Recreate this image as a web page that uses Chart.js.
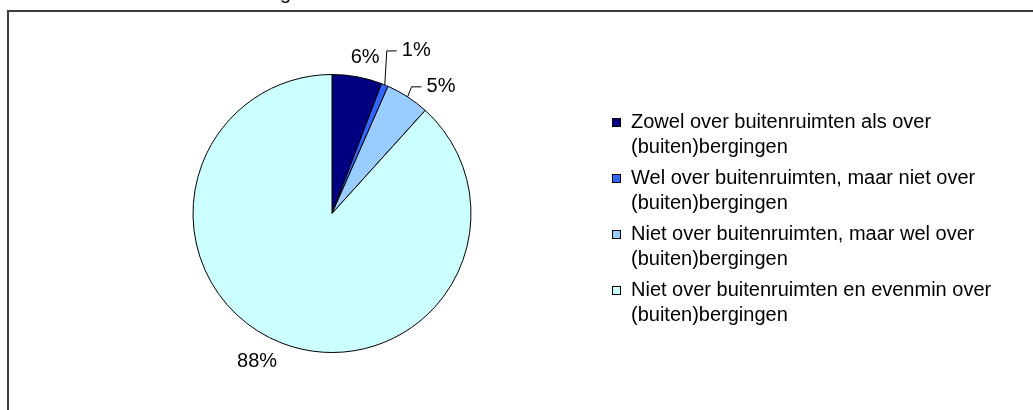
<!DOCTYPE html>
<html lang="nl">
<head>
  <meta charset="UTF-8" />
  <title>Buitenruimten en bergingen</title>
  <script src="https://cdn.jsdelivr.net/npm/chart.js"></script>
  <style>
    html, body { margin: 0; padding: 0; background: #fff; }
    canvas { display: block; }
  </style>
</head>
<body>
  <canvas id="pieChart" width="1033" height="410"></canvas>

  <script>
    // data
    const categories = [
      ['Zowel over buitenruimten als over', '(buiten)bergingen'],
      ['Wel over buitenruimten, maar niet over', '(buiten)bergingen'],
      ['Niet over buitenruimten, maar wel over', '(buiten)bergingen'],
      ['Niet over buitenruimten en evenmin over', '(buiten)bergingen']
    ];
    const shares = [5.8, 0.8, 5.1, 88.3];
    const percentLabels = ['6%', '1%', '5%', '88%'];
    const sliceColors = ['#000080', '#3366FF', '#99CCFF', '#CCFFFF'];

    const FONT = '20px "Liberation Sans", Arial, sans-serif';

    // where each percent label sits, relative to the middle of its slice on the rim
    // lead = draw a leader line from the rim to the label
    const labelPlace = [
      { dx: 8, dy: -19, lead: false },
      { dx: 17, dy: -34, lead: true },
      { dx: 19, dy: -10, lead: true },
      { dx: -25, dy: 18, lead: false }
    ];

    const framePlugin = {
      id: 'frame',
      beforeDraw(chart) {
        const ctx = chart.ctx;
        ctx.save();
        ctx.strokeStyle = '#3c3c3c';
        ctx.lineWidth = 2;
        ctx.beginPath();
        ctx.moveTo(8, 410);
        ctx.lineTo(8, 11);
        ctx.lineTo(1033, 11);
        ctx.stroke();
        // bottom of the cut-off title
        ctx.fillStyle = '#000';
        ctx.font = FONT;
        ctx.textBaseline = 'alphabetic';
        ctx.fillText('g', 280, -1);
        ctx.restore();
      }
    };

    const labelPlugin = {
      id: 'sliceLabels',
      afterDatasetsDraw(chart) {
        const ctx = chart.ctx;
        const meta = chart.getDatasetMeta(0);
        ctx.save();
        ctx.font = FONT;
        ctx.fillStyle = '#000';
        ctx.strokeStyle = '#000';
        ctx.lineWidth = 1;
        meta.data.forEach((arc, i) => {
          const p = arc.getProps(['x', 'y', 'startAngle', 'endAngle', 'outerRadius'], true);
          const mid = (p.startAngle + p.endAngle) / 2;
          const rx = p.x + Math.cos(mid) * p.outerRadius;
          const ry = p.y + Math.sin(mid) * p.outerRadius;
          const place = labelPlace[i];
          const lx = rx + place.dx;
          const ly = ry + place.dy;
          if (place.lead) {
            ctx.beginPath();
            ctx.moveTo(rx, ry);
            ctx.lineTo(lx - 15, ly);
            ctx.lineTo(lx - 5, ly);
            ctx.stroke();
            ctx.textAlign = 'left';
          } else {
            ctx.textAlign = 'center';
          }
          ctx.textBaseline = 'middle';
          ctx.fillText(percentLabels[i], lx, ly);
        });
        ctx.restore();
      }
    };

    const legendPlugin = {
      id: 'sideLegend',
      afterDraw(chart) {
        const ctx = chart.ctx;
        const ds = chart.data.datasets[0];
        ctx.save();
        ctx.font = FONT;
        ctx.textBaseline = 'middle';
        ctx.textAlign = 'left';
        chart.data.labels.forEach((lines, i) => {
          const top = 122 + i * 56;
          ctx.fillStyle = ds.backgroundColor[i];
          ctx.fillRect(612.5, top - 3.5, 8, 8);
          ctx.strokeStyle = '#000';
          ctx.lineWidth = 1;
          ctx.strokeRect(612.5, top - 3.5, 8, 8);
          ctx.fillStyle = '#000';
          lines.forEach((line, j) => {
            ctx.fillText(line, 631, top + j * 25);
          });
        });
        ctx.restore();
      }
    };

    const pieChart = new Chart(document.getElementById('pieChart'), {
      type: 'pie',
      data: {
        labels: categories,
        datasets: [{
          data: shares,
          backgroundColor: sliceColors,
          borderColor: '#000',
          borderWidth: 1
        }]
      },
      options: {
        responsive: false,
        animation: false,
        layout: {
          padding: { left: 192, right: 561, top: 74, bottom: 57 }
        },
        plugins: {
          legend: { display: false },
          tooltip: { enabled: false }
        }
      },
      plugins: [framePlugin, labelPlugin, legendPlugin]
    });
  </script>
</body>
</html>
